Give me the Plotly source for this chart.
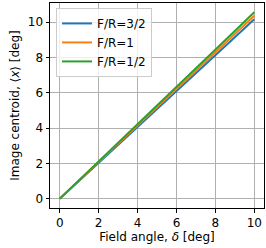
import plotly.graph_objects as go

field_angle = [0, 1, 2, 3, 4, 5, 6, 7, 8, 9, 10]
centroid_fr_3_2 = [0, 1.01, 2.02, 3.03, 4.05, 5.06, 6.08, 7.10, 8.12, 9.14, 10.16]
centroid_fr_1 = [0, 1.03, 2.06, 3.09, 4.12, 5.16, 6.19, 7.23, 8.27, 9.31, 10.36]
centroid_fr_1_2 = [0, 1.05, 2.10, 3.15, 4.20, 5.25, 6.31, 7.37, 8.43, 9.49, 10.56]
series_names = ["F/R=3/2", "F/R=1", "F/R=1/2"]
series_colors = ["#1f77b4", "#ff7f0e", "#2ca02c"]
tick_vals = [0, 2, 4, 6, 8, 10]

fig = go.Figure()
for name, ys, c in zip(series_names, [centroid_fr_3_2, centroid_fr_1, centroid_fr_1_2], series_colors):
    fig.add_trace(go.Scatter(x=field_angle, y=ys, mode="lines", name=name,
                             line=dict(color=c, width=2)))

font = dict(family="DejaVu Sans", size=12, color="black")
axis_common = dict(showline=True, linecolor="black", linewidth=1, mirror=True,
                   ticks="outside", ticklen=3.5, tickwidth=1, tickcolor="black",
                   showgrid=True, gridcolor="#b0b0b0", gridwidth=1, zeroline=False,
                   tickvals=tick_vals, tickfont=font, automargin=False)
fig.update_layout(
    width=266, height=248,
    margin=dict(l=50, r=2, t=3, b=40, autoexpand=False),
    paper_bgcolor="white", plot_bgcolor="white",
    font=font,
    xaxis=dict(range=[-0.5, 10.5], title=dict(text="Field angle, <i>δ</i> [deg]", font=font, standoff=3), **axis_common),
    yaxis=dict(range=[-0.53, 11.08], title=dict(text="Image centroid, ⟨<i>x</i>⟩ [deg]", font=font, standoff=5), **axis_common),
    legend=dict(x=0.028, y=0.976, xanchor="left", yanchor="top",
                bgcolor="rgba(255,255,255,0.8)", bordercolor="#cccccc", borderwidth=1,
                font=font, tracegroupgap=0, itemwidth=30),
    showlegend=True,
)
fig.write_html("out.html", config={"displayModeBar": False},
               post_script="document.body.style.margin='0px';document.body.style.overflow='hidden';")
